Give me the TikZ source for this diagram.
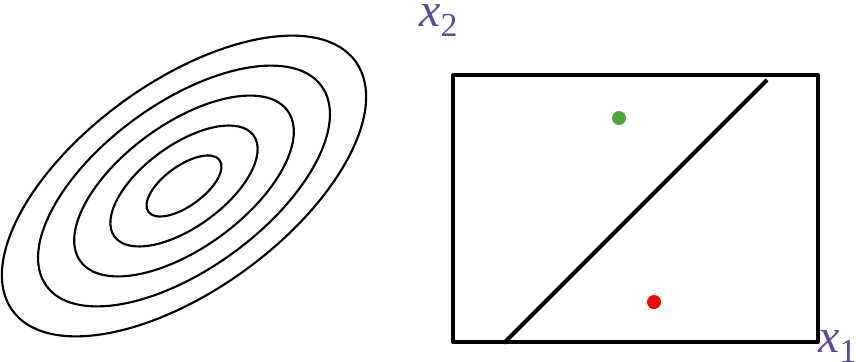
\documentclass[tikz,border=0pt]{standalone}
\usepackage{fontspec}
\setmainfont{Liberation Serif}
\usepackage{xcolor}
\usetikzlibrary{positioning}
\definecolor{axispurple}{RGB}{96,72,152}
\definecolor{dotgreen}{RGB}{78,166,52}
\definecolor{dotred}{RGB}{255,0,0}

\begin{document}
\begin{tikzpicture}[x=0.75pt, y=-0.75pt,
  contour/.style={line width=1.6pt},
  frame/.style={line width=3pt, line join=round},
  divider/.style={line width=3pt},
  sample/.style={circle, inner sep=0pt, minimum size=10.5pt},
  axislabel/.style={text=axispurple, inner sep=0pt, font=\fontsize{36}{38}\selectfont}]

  \useasboundingbox (0,0) rectangle (856,361);

  % Define the level sets
  \coordinate (C) at (184,186);
  \foreach \k in {0,...,4}
    \draw[contour, rotate around={36:(C)}] (C) ellipse [x radius={44+42*\k}, y radius={20+21*\k}];

  % Define the input space
  \coordinate (BL) at (453,342);
  \coordinate (TR) at (818,75);
  \draw[frame] (BL) rectangle (TR);
  \coordinate (L1) at (504,343);
  \coordinate (L2) at (767,80);
  \draw[divider] (L1) -- (L2);

  % Samples on each side
  \node[sample, fill=dotgreen] (pos) at (619,118) {};
  \node[sample, fill=dotred] (neg) at (654,302) {};

  % Axis labels
  \node[axislabel, anchor=base west] (xtwo) at (419,26) {\textit{x}\textsubscript{2}};
  \node[axislabel, anchor=base west] (xone) at (818,352) {\textit{x}\textsubscript{1}};
\end{tikzpicture}
\end{document}
